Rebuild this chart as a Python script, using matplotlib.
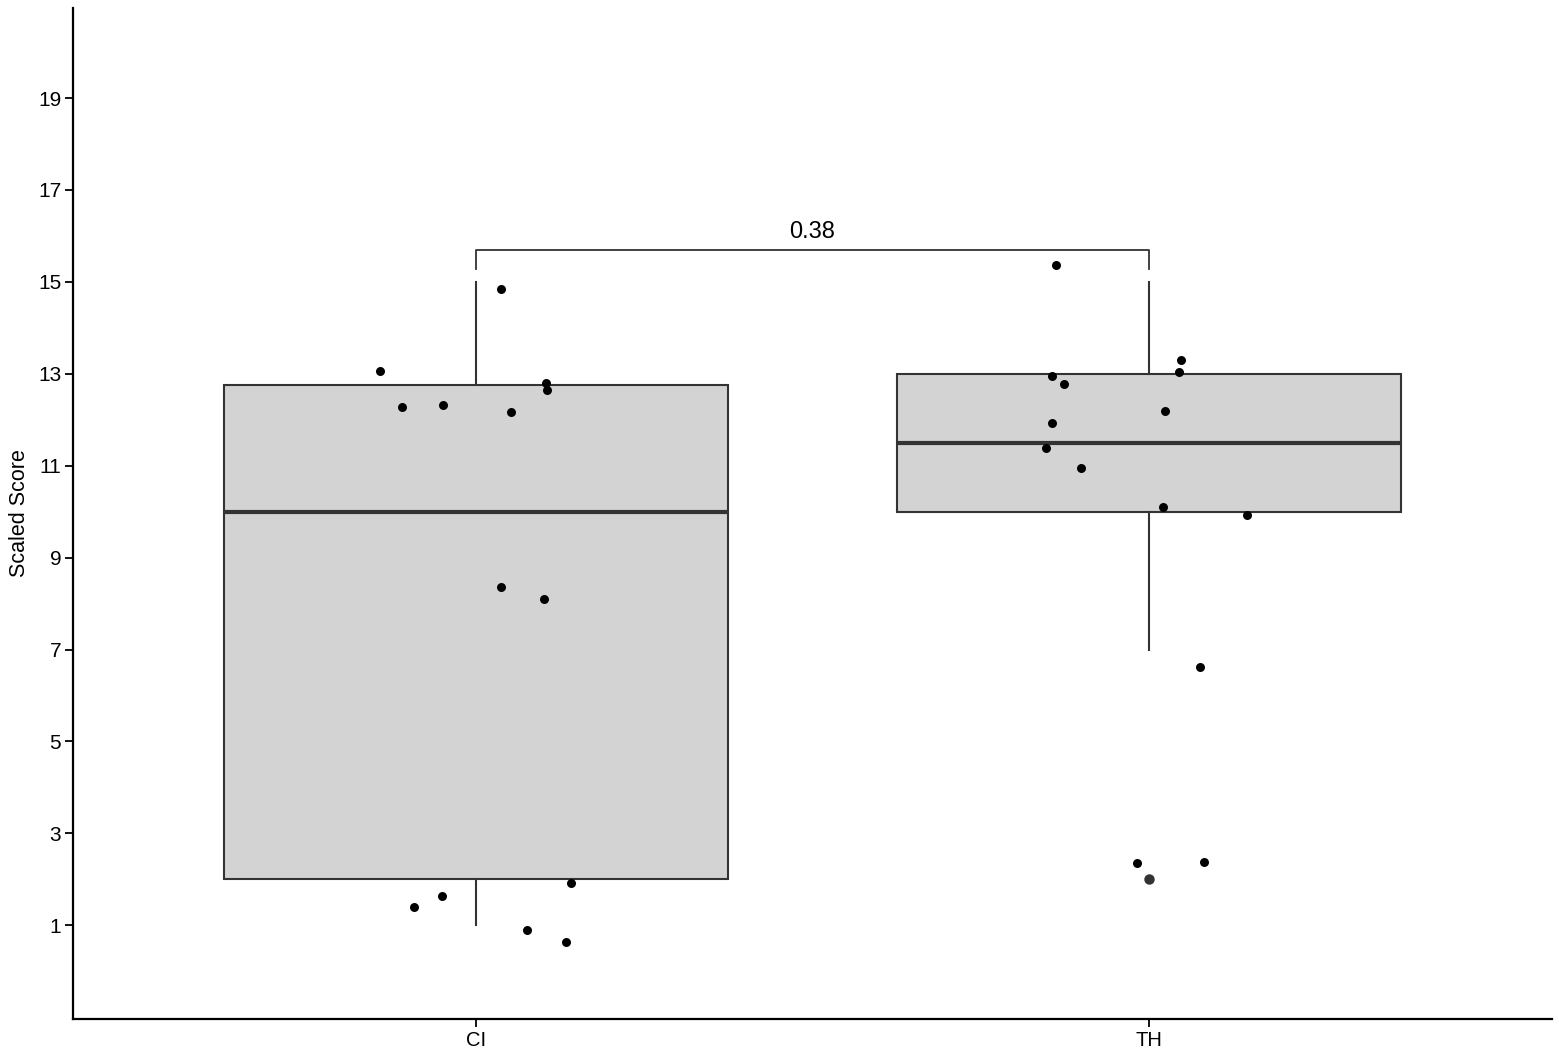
"""
Box plot of scaled scores for CI and TH groups, with jittered points
and a bracket showing the comparison p-value.
"""

import matplotlib
matplotlib.use("Agg")
import matplotlib.pyplot as plt

plt.rcParams["font.family"] = ["Liberation Sans", "DejaVu Sans"]

GROUPS = ["CI", "TH"]
POSITIONS = [1, 2]

# box summary values (whisker low, Q1, median, Q3, whisker high)
WHIS_LO = [1, 7]
Q1 = [2, 10]
MEDIAN = [10, 11.5]
Q3 = [12.75, 13]
WHIS_HI = [15, 15]
OUTLIERS = [[], [2]]

# jittered observations
CI_X = [0.857, 0.890, 0.951, 1.036, 1.051, 1.103, 1.105, 1.036, 1.101,
        1.141, 0.908, 0.949, 1.076, 1.134]
CI_Y = [13.07, 12.28, 12.33, 14.85, 12.17, 12.80, 12.65, 8.37, 8.09,
        1.93, 1.39, 1.63, 0.89, 0.63]
TH_X = [1.862, 1.857, 1.874, 2.048, 2.045, 2.024, 1.856, 1.847, 1.899,
        2.022, 2.147, 2.076, 1.982, 2.083]
TH_Y = [15.37, 12.96, 12.78, 13.30, 13.04, 12.20, 11.93, 11.39, 10.96,
        10.11, 9.93, 6.63, 2.35, 2.37]

P_LABEL = "0.38"
BRACKET_Y = 15.7
BRACKET_TIP = 15.28

Y_TICKS = [1, 3, 5, 7, 9, 11, 13, 15, 17, 19]


def main() -> None:
    fig = plt.figure(figsize=(15.59, 10.53), dpi=100)
    ax = fig.add_axes([0.0468, 0.0323, 0.9487, 0.9601])

    stats = []
    for i, name in enumerate(GROUPS):
        stats.append({
            "label": name,
            "whislo": WHIS_LO[i],
            "q1": Q1[i],
            "med": MEDIAN[i],
            "q3": Q3[i],
            "whishi": WHIS_HI[i],
            "fliers": OUTLIERS[i],
        })

    ax.bxp(
        stats,
        positions=POSITIONS,
        widths=0.75,
        patch_artist=True,
        showcaps=False,
        boxprops=dict(facecolor="#D3D3D3", edgecolor="#333333", linewidth=1.5),
        medianprops=dict(color="#333333", linewidth=3),
        whiskerprops=dict(color="#333333", linewidth=1.5),
        flierprops=dict(marker="o", markerfacecolor="#333333",
                        markeredgecolor="#333333", markersize=6.5),
        zorder=1,
    )

    # jittered points
    ax.scatter(CI_X, CI_Y, s=42, color="black", zorder=3, linewidths=0)
    ax.scatter(TH_X, TH_Y, s=42, color="black", zorder=3, linewidths=0)

    # significance bracket
    ax.plot([POSITIONS[0], POSITIONS[0], POSITIONS[1], POSITIONS[1]],
            [BRACKET_TIP, BRACKET_Y, BRACKET_Y, BRACKET_TIP],
            color="#333333", linewidth=1.3, zorder=2)
    ax.text(sum(POSITIONS) / 2, BRACKET_Y + 0.15, P_LABEL,
            ha="center", va="bottom", fontsize=17)

    ax.set_xlim(0.4, 2.6)
    ax.set_ylim(-1.04, 20.96)
    ax.set_xticks(POSITIONS)
    ax.set_xticklabels(GROUPS)
    ax.set_yticks(Y_TICKS)
    ax.set_ylabel("Scaled Score", fontsize=15.5, labelpad=6)

    for side in ["top", "right"]:
        ax.spines[side].set_visible(False)
    for side in ["left", "bottom"]:
        ax.spines[side].set_linewidth(1.6)
    ax.tick_params(axis="both", length=5.5, width=1.3, colors="black", pad=3)
    ax.tick_params(axis="y", labelsize=15)
    ax.tick_params(axis="x", labelsize=14.5)

    fig.savefig("out.png", dpi=100)


if __name__ == "__main__":
    main()
